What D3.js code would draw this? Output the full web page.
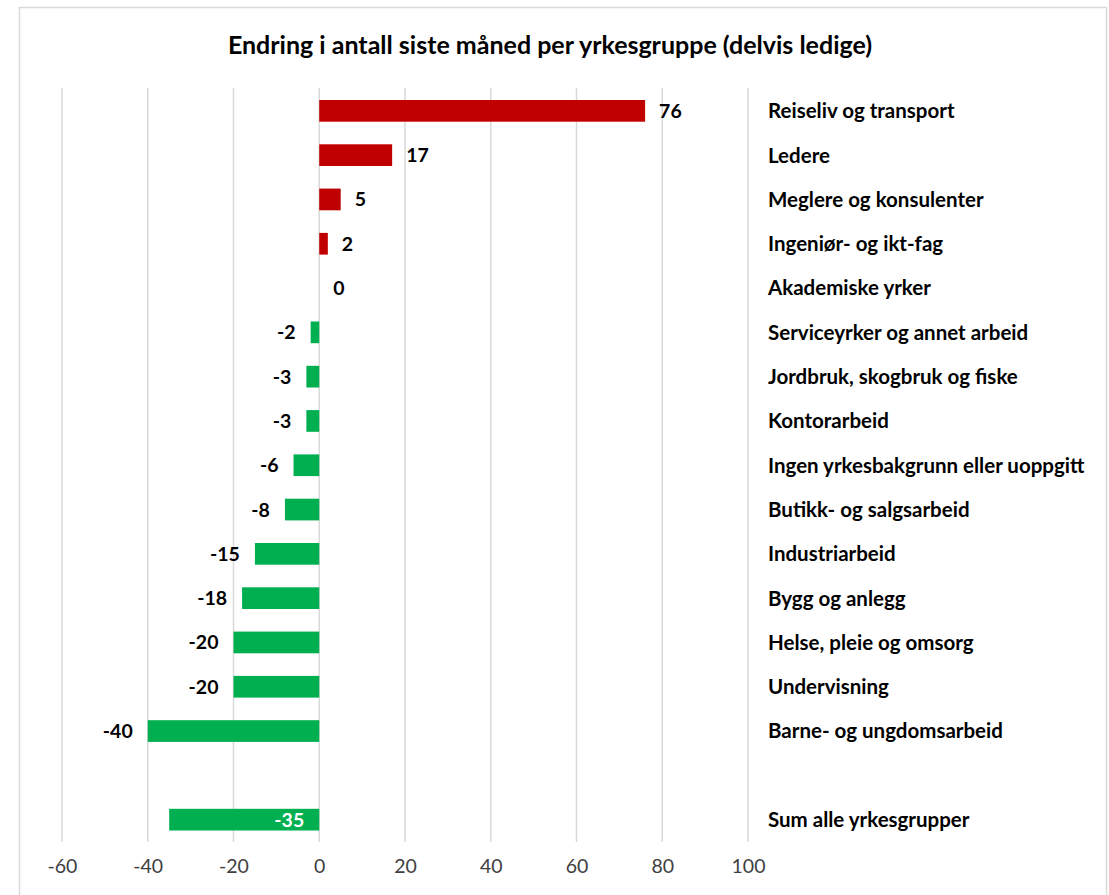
<!DOCTYPE html>
<html><head><meta charset="utf-8">
<script src="https://cdn.jsdelivr.net/npm/d3@7"></script>
<style>
html,body{margin:0;padding:0;background:#fff;}
svg text{font-family:Lato,"Open Sans",sans-serif;}
</style></head>
<body>
<svg id="chart" width="1109" height="895"></svg>
<script>
const title = "Endring i antall siste måned per yrkesgruppe (delvis ledige)";
const categories = ["Reiseliv og transport","Ledere","Meglere og konsulenter","Ingeniør- og ikt-fag","Akademiske yrker","Serviceyrker og annet arbeid","Jordbruk, skogbruk og fiske","Kontorarbeid","Ingen yrkesbakgrunn eller uoppgitt","Butikk- og salgsarbeid","Industriarbeid","Bygg og anlegg","Helse, pleie og omsorg","Undervisning","Barne- og ungdomsarbeid","","Sum alle yrkesgrupper"];
const values = [76,17,5,2,0,-2,-3,-3,-6,-8,-15,-18,-20,-20,-40,null,-35];
const ticks = [-60,-40,-20,0,20,40,60,80,100];

const fmt = d => String(d);
const svg = d3.select("#chart");
// chart border
svg.append("rect").attr("x",19.5).attr("y",7.5).attr("width",1087).attr("height",900)
  .attr("fill","#fff").attr("stroke","#d9d9d9").attr("stroke-width",1.5);

svg.append("text").attr("x",550).attr("y",54).attr("text-anchor","middle")
  .attr("font-size",25).attr("font-weight","bold").attr("fill","#000").text(title);

const x = d3.scaleLinear().domain([-60,100]).range([62,748]);
const idx = categories.map((d,i)=>i);
const y = d3.scaleBand().domain(idx).range([88.7,841.8]).paddingInner(0.51).paddingOuter(0.255);

// gridlines
svg.append("g").selectAll("line").data(ticks).join("line")
  .attr("x1",d=>x(d)).attr("x2",d=>x(d)).attr("y1",88).attr("y2",842)
  .attr("stroke","#d9d9d9").attr("stroke-width",1.5);

// axis labels
const ax = svg.append("g").attr("transform","translate(0,842)")
  .call(d3.axisBottom(x).tickValues(ticks).tickSize(0).tickPadding(17).tickFormat(fmt));
ax.select(".domain").remove();
ax.selectAll("text").attr("font-size",19.5).attr("fill","#404040").attr("font-family","Lato,sans-serif");

const data = idx.filter(i=>values[i]!==null).map(i=>({i, v:values[i], c:categories[i]}));

svg.append("g").selectAll("rect").data(data.filter(d=>d.v!==0)).join("rect")
  .attr("x",d=>x(Math.min(0,d.v))).attr("width",d=>Math.abs(x(d.v)-x(0)))
  .attr("y",d=>y(d.i)).attr("height",y.bandwidth())
  .attr("fill",d=>d.v>0?"#c00000":"#00b050");

// value labels
const last = categories.length-1;
svg.append("g").selectAll("text").data(data).join("text")
  .attr("x",d=>{
    if(d.i===last) return x(0) - 15;
    return d.v>=0 ? x(d.v)+14 : x(d.v)-15;
  })
  .attr("y",d=>y(d.i)+y.bandwidth()/2).attr("dy","0.36em")
  .attr("text-anchor",d=>{ if(d.i===last) return "end"; return d.v>=0?"start":"end"; })
  .attr("font-size",19.5).attr("font-weight","bold")
  .attr("fill",d=>d.i===last?"#fff":"#000")
  .text(d=>fmt(d.v));

// category labels
svg.append("g").selectAll("text").data(categories.map((c,i)=>({c,i})).filter(d=>d.c)).join("text")
  .attr("x",768).attr("y",d=>y(d.i)+y.bandwidth()/2).attr("dy","0.36em")
  .attr("font-size",20.5).attr("font-weight","bold").attr("fill","#000")
  .text(d=>d.c);
</script>
</body></html>
